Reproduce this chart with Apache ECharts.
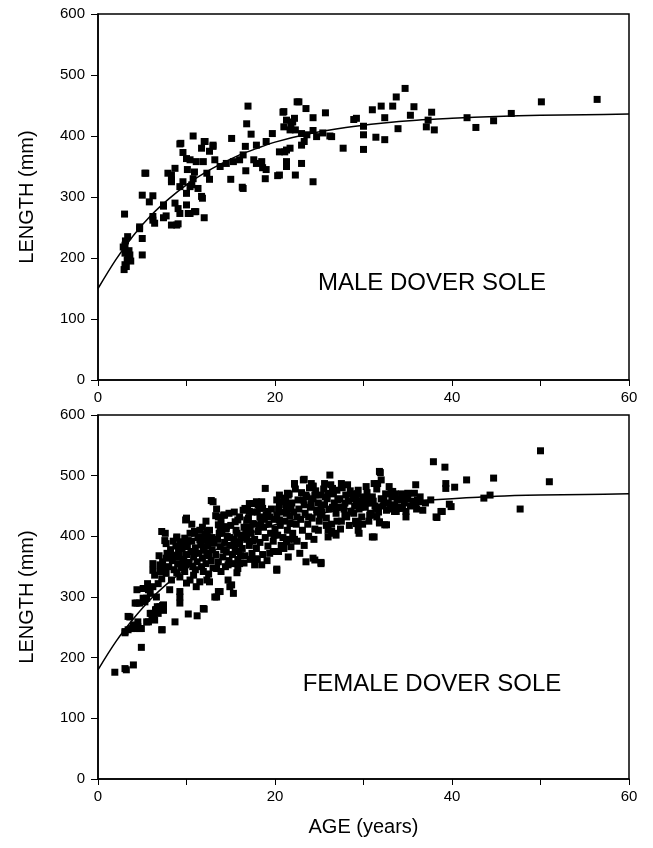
<!DOCTYPE html>
<html>
<head>
<meta charset="utf-8">
<script src="https://cdn.jsdelivr.net/npm/echarts@6/dist/echarts.min.js"></script>
<style>
  html, body { margin: 0; padding: 0; background: #fff; }
  #chart { width: 653px; height: 848px; }
</style>
</head>
<body>
<div id="chart"></div>
<script>
// age (years), length (mm)
const maleData = [
  [3.0,272],[2.85,218],[3.05,221],[3.05,208],[3.3,197],[3.05,189],[2.95,181],[3.6,205],[3.7,195],[3.4,200],
  [3.2,186],[3.5,212],[3.35,235],[3.1,228],[4.7,251],[4.7,248],[5.0,232],[5.0,205],[5.0,303],[6.2,302],
  [5.8,292],[5.4,339],[6.2,262],[6.4,257],[6.2,268],[7.4,266],[7.7,269],[7.4,285],[7.4,287],[8.3,254],
  [8.9,254],[9.05,256],[8.7,290],[9.05,281],[9.25,273],[10.0,287],[10.4,273],[10.2,273],[11.05,276],[10.9,276],
  [12.0,266],[11.8,298],[11.3,314],[10.6,320],[16.4,314],[8.3,325],[10.0,306],[11.7,301],[5.3,339],
  [7.9,339],[8.3,336],[8.3,328],[8.7,347],[9.25,317],[9.6,325],[10.4,317],[10.75,330],[10.1,345],[10.9,341],
  [12.3,339],[12.6,329],[9.36,388],[9.25,387],[10.75,400],[9.6,373],[10.0,363],[10.4,361],[11.1,358],[11.9,358],
  [11.7,380],[12.0,391],[12.1,391],[13.0,385],[13.0,383],[12.6,375],[13.2,361],[13.8,350],[14.5,355],[15.3,358],
  [16.0,361],[16.4,369],[16.65,383],[15.1,396],[17.3,403],[17.9,385],[19.0,391],[19.7,404],[16.95,449],[16.8,420],
  [17.6,361],[17.9,355],[18.5,358],[18.6,348],[19.0,345],[16.7,343],[18.9,330],[20.3,335],[15.0,329],[16.3,316],
  [20.5,374],[21.3,377],[21.3,350],[22.3,336],[21.0,440],[22.5,456],[21.3,426],[21.8,418],[22.3,410],[22.0,423],
  [22.2,429],[21.0,415],[21.7,410],[23.0,404],[24.3,409],[24.7,399],[25.4,405],[26.2,400],[23.3,391],[23.0,385],
  [21.7,380],[21.1,374],[21.3,358],[23.0,355],[20.5,336],[24.3,325],[23.5,445],[22.7,456],[24.3,430],[25.7,438],
  [26.4,399],[27.7,380],[28.9,427],[29.2,429],[30.0,416],[30.0,402],[30.0,378],[31.0,443],[32.0,449],[33.3,449],
  [33.7,464],[34.7,478],[35.7,448],[32.4,430],[35.3,434],[31.4,398],[32.4,394],[33.9,412],[37.7,439],[37.3,426],
  [37.1,415],[38.0,410],[41.7,430],[42.7,414],[44.7,425],[46.7,437],[50.1,456],[56.4,460],[20.9,439],[23.6,402]
];

const femaleData = [
  [1.9,176],[3.05,182],[3.2,180],[4.0,188],[4.9,217],[3.6,267],[3.4,268],[3.05,241],[3.05,243],[3.4,246],
  [3.8,248],[4.0,254],[4.5,259],[4.5,251],[4.9,248],[4.2,248],[4.7,248],[5.5,259],[5.7,259],[6.1,263],
  [6.4,262],[6.3,268],[5.9,273],[6.05,273],[6.5,279],[6.6,279],[6.7,284],[7.0,284],[7.3,286],[7.4,287],
  [7.4,278],[6.8,273],[7.2,246],[7.25,246],[8.7,259],[10.2,272],[11.2,269],[12.0,280],[11.9,281],[9.25,290],
  [9.25,300],[9.25,309],[13.2,300],[13.6,309],[13.8,309],[14.9,317],[15.3,306],[13.4,300],[4.4,290],[4.2,290],
  [4.7,290],[5.1,298],[5.3,292],[5.5,298],[5.9,306],[5.1,314],[4.4,312],[5.7,312],[6.2,317],[6.8,322],
  [6.4,336],[6.2,344],[7.0,353],[7.7,364],[8.5,369],[9.05,366],[6.2,355],[7.0,342],[7.7,339],[8.3,328],
  [9.25,333],[9.8,342],[10.4,328],[11.1,317],[11.5,325],[12.3,328],[12.6,325],[13.4,347],[15.1,320],[14.7,328],
  [7.55,393],[7.2,408],[7.6,405],[7.7,388],[8.9,399],[8.9,397],[9.8,397],[9.9,427],[10.0,430],[9.6,391],
  [10.9,408],[10.9,405],[11.5,394],[11.5,399],[11.9,383],[12.1,394],[12.3,408],[12.4,399],[12.8,459],[13.0,457],
  [13.3,434],[14.2,435],[14.3,435],[13.6,432],[13.6,419],[13.8,416],[14.5,413],[14.5,416],[15.6,410],[15.5,424],
  [15.8,427],[16.4,443],[16.6,446],[17.1,454],[17.1,441],[17.5,454],[17.9,457],[18.1,452],[18.5,457],[16.8,427],
  [18.9,479],[18.6,446],[19.2,441],[18.3,432],[17.5,421],[16.8,416],[15.8,347],[16.0,355],[17.7,353],[18.5,353],
  [20.2,344],[20.2,346],
  [7.3,358],[7.8,372],[8.0,350],[8.2,378],[8.4,360],[8.6,345],[8.8,384],[9.0,355],[9.2,372],[9.4,348],
  [9.5,380],[9.7,362],[9.9,353],[8.1,366],[7.5,347],[8.9,340],[9.3,389],[10.0,370],[10.1,383],[10.3,357],
  [10.5,375],[10.6,392],[10.7,350],[10.8,366],[11.0,381],[11.2,358],[11.3,398],[11.4,372],[11.6,386],[11.7,350],
  [11.8,364],[12.0,377],[12.1,403],[12.2,355],[12.4,384],[12.5,368],[12.7,392],[12.8,360],[12.9,378],[13.0,348],
  [10.4,405],[11.0,345],[12.6,410],[13.1,389],
  [13.3,370],[13.5,395],[13.6,358],[13.8,383],[14.0,405],[14.1,366],[14.3,390],[14.5,374],[14.6,400],[14.8,360],
  [14.9,385],[15.0,418],[15.2,370],[15.4,395],[15.5,380],[15.7,405],[15.8,362],[16.0,390],[13.9,425],[14.7,353],
  [15.9,375],[15.3,355],[14.4,412],[16.2,402],
  [16.3,380],[16.5,415],[16.6,368],[16.8,395],[17.0,430],[17.1,385],[17.3,405],[17.4,372],[17.6,420],[17.7,395],
  [17.9,380],[18.0,440],[18.1,408],[18.3,390],[18.4,425],[18.6,370],[18.7,415],[18.9,398],[19.0,435],[19.2,384],
  [19.3,420],[19.5,405],[19.6,445],[19.8,392],[19.9,428],[20.0,412],[16.9,445],[17.8,363],[19.4,372],[18.2,450],
  [16.4,398],[17.2,412],
  [20.2,435],[20.3,402],[20.5,452],[20.6,418],[20.8,440],[20.9,398],[21.0,463],[21.1,425],[21.3,448],[21.4,410],
  [21.6,470],[21.7,433],[21.9,455],[22.0,405],[22.1,440],[22.3,478],[22.4,420],[22.6,460],[22.7,445],[22.9,428],
  [23.0,472],[23.1,410],[23.3,452],[23.4,438],[23.6,465],[23.7,420],[23.9,480],[24.0,448],[24.2,430],[24.3,462],
  [24.5,412],[24.6,475],[24.8,440],[24.9,455],[25.0,425],[20.7,385],[21.5,395],[22.5,392],[23.8,400],[24.4,395],
  [25.2,468],[25.3,440],[25.5,478],[25.6,452],[25.8,430],[25.9,462],[26.1,445],[26.3,485],[26.4,420],[26.6,470],
  [26.7,455],[26.9,438],[27.0,476],[27.2,448],[27.3,462],[27.5,425],[27.6,480],[27.8,445],[28.0,468],[28.1,432],
  [28.3,458],[28.5,475],[28.6,440],[28.8,462],[29.0,450],[29.1,425],[29.3,470],[29.5,445],[29.6,458],[29.8,432],
  [30.0,465],[26.0,410],[27.4,412],[28.4,418],[29.4,410],[30.2,448],
  [30.4,472],[30.6,455],[30.8,438],[31.0,465],[31.3,450],[31.5,478],[31.7,440],[32.0,462],[32.2,450],[32.5,470],
  [32.8,455],[33.0,445],[33.2,465],[33.5,452],[33.8,460],[34.0,448],[34.3,470],[34.6,455],[35.0,462],[35.3,450],
  [35.6,458],[36.0,445],[36.4,465],[37.0,455],
  [37.9,523],[39.2,514],[31.9,505],[26.2,501],[23.3,494],[24.1,487],[22.2,487],[21.4,471],[25.6,487],[26.5,479],
  [27.5,487],[28.2,485],[31.6,487],[32.9,482],[33.3,474],[35.9,485],[35.0,471],[35.75,471],[39.3,487],[39.3,479],
  [37.6,460],[38.2,432],[38.9,441],[36.7,443],[35.9,452],[36.3,457],[34.8,432],[34.4,446],[33.7,441],[32.6,443],
  [32.4,419],[31.8,424],[31.2,399],[29.2,421],[29.5,405],[30.7,435],[31.6,446],[30.3,457],[29.2,460],[24.3,364],
  [25.2,355],[24.5,361],[21.5,366],[26.0,399],[26.9,402],[26.4,408],[40.3,481],[41.65,493],[44.7,496],[50.0,541],
  [51.0,490],[44.3,468],[43.6,463],[47.7,445],[39.7,453],[39.9,449],[38.75,441],[38.3,431],[24.3,483],[29.4,476],
  [30.3,482],[31.2,487],[31.8,507],[32.0,493],[33.1,474],[36.1,460],[30.9,435],[31.8,422],[32.6,419],[29.4,421],
  [31.0,399],[26.7,405],[34.8,441],[33.5,441],[33.9,446],[31.4,446],[20.2,460],[20.9,457],[20.5,468],[21.5,468],
  [21.7,452],[22.2,486],[23.2,493],[23.5,468],[24.3,482],[24.1,454],[24.7,443],[25.2,449],[26.0,471],[21.3,438],
  [20.5,427],[21.7,421],[21.3,391],[21.8,383],[22.8,372],[23.5,358],[25.2,357],
  [8.5,392],[9.1,376],[9.6,358],[10.2,393],[10.9,372],[11.5,410],[12.3,372],[12.9,398],[13.7,405],[14.2,378],
  [14.9,398],[15.6,388],[16.1,368],[16.7,405],[17.5,392],[18.2,418],[18.8,428],[19.4,432],[19.9,402],[20.4,445],
  [21.2,458],[21.8,445],[22.5,432],[23.2,460],[23.8,432],[24.5,468],[25.1,435],[25.7,465],[26.5,448],[27.1,460],
  [27.9,455],[28.7,470],[29.7,448],[30.5,462],[31.1,458],[32.3,460],[33.6,470],[34.5,462],[10.6,420],[11.8,415],
  [12.2,425],[13.4,445],[14.8,438],[15.4,440],[16.0,432],[17.4,440],[6.9,368],[7.2,330],[8.1,312],[6.6,300],
  [5.6,322],[10.0,323],[10.8,336],[11.9,342],[12.5,338],[13.9,342],[14.4,350],[15.7,340],[16.5,356],[17.2,362],
  [18.0,362],[19.1,360],[19.8,375],[20.4,375],[21.0,380],[22.2,395],[23.3,385],[24.9,410],[25.8,418],[27.0,425],
  [27.9,435],[28.9,438],[29.9,420],[30.6,425],[31.5,432]
];

// fitted growth curves, read at these ages
const curveAges = [0, 2, 4, 6, 8, 10, 12, 14, 16, 18, 20, 24, 28, 32, 36, 40, 45, 50, 55, 60];
const maleCurve = [150, 197, 237, 270, 297, 320, 339, 355, 369, 380, 390, 404, 414, 421, 426, 429, 432, 434, 435, 436];
const femaleCurve = [180, 226, 264, 297, 324, 347, 367, 383, 397, 409, 419, 434, 445, 453, 458, 462, 466, 468, 469, 470];

const lengthTicks = [0, 100, 200, 300, 400, 500, 600];
const ageTicks = [0, 10, 20, 30, 40, 50, 60];
const ageLabels = [0, 20, 40, 60];

const FONT = '"Liberation Sans", Arial, Helvetica, sans-serif';

function xAxisFor(gridIndex, withName) {
  return {
    type: "value",
    gridIndex: gridIndex,
    min: ageTicks[0],
    max: ageTicks[ageTicks.length - 1],
    interval: 10,
    name: withName ? "AGE (years)" : "",
    nameLocation: "middle",
    nameGap: 38,
    nameTextStyle: { color: "#000", fontSize: 20, fontFamily: FONT },
    axisLine: { onZero: false, lineStyle: { color: "#000", width: 1.5 } },
    axisTick: { length: 6, lineStyle: { color: "#000", width: 1 } },
    axisLabel: {
      color: "#000",
      fontSize: 15,
      fontFamily: FONT,
      margin: 10,
      formatter: (v) => (ageLabels.includes(v) ? String(v) : ""),
    },
    splitLine: { show: false },
  };
}

function yAxisFor(gridIndex) {
  return {
    type: "value",
    gridIndex: gridIndex,
    min: lengthTicks[0],
    max: lengthTicks[lengthTicks.length - 1],
    interval: 100,
    name: "LENGTH (mm)",
    nameLocation: "middle",
    nameGap: 61,
    nameTextStyle: { color: "#000", fontSize: 20, fontFamily: FONT },
    axisLine: { onZero: false, lineStyle: { color: "#000", width: 1.5 } },
    axisTick: { length: 7, lineStyle: { color: "#000", width: 1 } },
    axisLabel: { color: "#000", fontSize: 15, fontFamily: FONT, margin: 13 },
    splitLine: { show: false },
  };
}

function scatterFor(idx, data) {
  return {
    type: "scatter",
    xAxisIndex: idx,
    yAxisIndex: idx,
    data: data,
    symbol: "rect",
    symbolSize: 7,
    itemStyle: { color: "#000", opacity: 1 },
    silent: true,
  };
}

function curveFor(idx, values) {
  return {
    type: "line",
    xAxisIndex: idx,
    yAxisIndex: idx,
    data: curveAges.map((a, i) => [a, values[i]]),
    smooth: 0.3,
    showSymbol: false,
    lineStyle: { color: "#000", width: 1.5 },
    z: 3,
    silent: true,
  };
}

const chart = echarts.init(document.getElementById("chart"), null, { renderer: "canvas" });

chart.setOption({
  animation: false,
  backgroundColor: "#fff",
  grid: [
    { left: 98, top: 14, width: 531, height: 366, show: true, borderColor: "#000", borderWidth: 1.5 },
    { left: 98, top: 415, width: 531, height: 364, show: true, borderColor: "#000", borderWidth: 1.5 },
  ],
  xAxis: [xAxisFor(0, false), xAxisFor(1, true)],
  yAxis: [yAxisFor(0), yAxisFor(1)],
  series: [
    scatterFor(0, maleData),
    curveFor(0, maleCurve),
    scatterFor(1, femaleData),
    curveFor(1, femaleCurve),
  ],
  graphic: [
    {
      type: "text",
      x: 432,
      y: 283,
      style: {
        text: "MALE DOVER SOLE",
        font: "24px " + FONT,
        fill: "#000",
        textAlign: "center",
        textVerticalAlign: "middle",
      },
    },
    {
      type: "text",
      x: 432,
      y: 684,
      style: {
        text: "FEMALE DOVER SOLE",
        font: "24px " + FONT,
        fill: "#000",
        textAlign: "center",
        textVerticalAlign: "middle",
      },
    },
  ],
});
</script>
</body>
</html>
